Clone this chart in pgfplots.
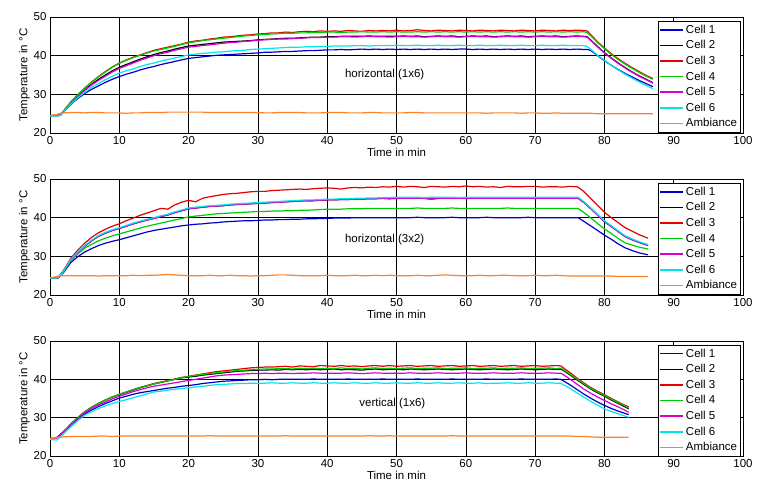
\documentclass[border=0pt]{standalone}
\usepackage{fontspec}
\setmainfont{Liberation Sans}
\usepackage{pgfplots}
\usepackage{pgfplotstable}
\pgfplotsset{compat=1.18}

\newcommand\axfont{\fontsize{11.5bp}{13bp}\selectfont}

\definecolor{cone}{RGB}{0,0,205}
\definecolor{ctwo}{RGB}{0,0,0}
\definecolor{cthree}{RGB}{230,0,0}
\definecolor{cfour}{RGB}{0,205,0}
\definecolor{cfive}{RGB}{215,0,215}
\definecolor{csix}{RGB}{0,230,230}
\definecolor{camb}{RGB}{255,130,40}

% horizontal (1x6)
\pgfplotstableread{
t c1 c2 c3 c4 c5 c6 a
0 24.5 24.5 24.5 24.5 24.5 24.4 24.5
1 24.5 24.6 24.5 24.6 24.5 24.4 24.8
1.5 24.6 24.6 24.6 24.6 24.6 24.5 25.1
2 25.6 25.7 25.8 25.8 25.7 25.6 25.2
3 27.4 27.9 28.0 27.9 27.7 27.5 25.3
4 28.9 29.6 29.9 29.8 29.4 29.1 25.3
5 30.2 31.2 31.6 31.5 31.0 30.5 25.2
6 31.3 32.6 33.2 33.1 32.4 31.8 25.3
7 32.2 33.9 34.6 34.5 33.6 32.8 25.3
8 33.1 35.0 35.9 35.8 34.7 33.8 25.2
9 33.9 36.1 37.1 37.0 35.8 34.7 25.2
10 34.6 37.0 38.1 38.0 36.7 35.5 25.2
11 35.2 37.7 38.9 38.8 37.4 36.1 25.1
12 35.7 38.4 39.6 39.5 38.1 36.6 25.2
13 36.3 39.1 40.2 40.1 38.8 37.2 25.2
14 36.8 39.7 40.8 40.7 39.4 37.7 25.3
15 37.2 40.3 41.4 41.2 40.0 38.1 25.3
16 37.7 40.8 41.8 41.6 40.5 38.6 25.3
17 38.1 41.2 42.2 42.0 40.9 39.0 25.4
18 38.5 41.7 42.6 42.4 41.4 39.4 25.4
19 38.9 42.1 43.0 42.9 41.8 39.8 25.4
20 39.3 42.5 43.5 43.3 42.2 40.2 25.4
21 39.5 42.7 43.8 43.6 42.4 40.4 25.4
22 39.7 42.9 44.0 43.9 42.6 40.6 25.4
23 39.9 43.1 44.3 44.1 42.8 40.7 25.3
24 40.1 43.3 44.5 44.3 43.0 40.9 25.3
25 40.2 43.5 44.8 44.5 43.2 41.0 25.3
26 40.3 43.6 44.9 44.7 43.4 41.2 25.3
27 40.4 43.7 45.1 44.9 43.5 41.3 25.3
28 40.5 43.8 45.3 45.1 43.7 41.4 25.3
29 40.6 43.9 45.4 45.2 43.8 41.6 25.3
30 40.7 44.1 45.6 45.4 44.0 41.7 25.3
31 40.9 44.2 45.7 45.5 44.1 41.8 25.2
32 40.9 44.3 45.9 45.6 44.2 41.9 25.2
33 41.0 44.4 45.9 45.7 44.3 42.0 25.3
34 41.1 44.5 46.1 45.8 44.3 42.1 25.3
35 41.1 44.5 46.0 45.8 44.4 42.2 25.3
36 41.2 44.6 46.2 45.9 44.5 42.2 25.3
37 41.3 44.7 46.3 45.9 44.6 42.3 25.2
38 41.3 44.8 46.2 46.0 44.7 42.3 25.2
39 41.4 44.8 46.4 46.0 44.7 42.4 25.2
40 41.5 44.9 46.3 46.1 44.8 42.4 25.3
41 41.5 44.9 46.4 46.1 44.8 42.5 25.3
42 41.6 45.0 46.3 46.0 44.9 42.5 25.3
43 41.5 45.0 46.5 46.1 44.9 42.5 25.2
44 41.6 45.0 46.4 46.1 44.8 42.6 25.2
45 41.7 45.0 46.3 46.2 44.9 42.6 25.2
46 41.6 45.1 46.5 46.1 45.0 42.5 25.3
47 41.7 45.0 46.4 46.1 44.9 42.6 25.3
48 41.6 45.0 46.5 46.2 44.9 42.6 25.2
49 41.7 45.0 46.4 46.1 44.8 42.6 25.2
50 41.6 45.0 46.6 46.2 44.9 42.7 25.2
51 41.7 45.1 46.4 46.1 45.0 42.6 25.2
52 41.6 45.0 46.5 46.1 44.9 42.6 25.3
53 41.7 45.1 46.7 46.2 44.9 42.7 25.3
54 41.6 44.9 46.5 46.1 44.8 42.6 25.2
55 41.7 45.0 46.4 46.2 44.9 42.6 25.2
56 41.6 45.1 46.6 46.1 45.0 42.7 25.2
57 41.7 45.0 46.5 46.2 44.9 42.6 25.2
58 41.6 45.1 46.4 46.1 44.9 42.6 25.2
59 41.7 44.9 46.6 46.2 44.8 42.7 25.2
60 41.7 45.0 46.5 46.1 44.9 42.6 25.2
61 41.6 45.1 46.4 46.2 45.0 42.6 25.2
62 41.7 45.0 46.6 46.1 44.9 42.7 25.2
63 41.6 45.1 46.5 46.2 44.9 42.6 25.1
64 41.7 44.9 46.4 46.1 44.8 42.6 25.2
65 41.6 45.0 46.6 46.2 44.9 42.7 25.2
66 41.7 45.1 46.5 46.1 45.0 42.6 25.2
67 41.6 45.0 46.4 46.2 44.9 42.6 25.2
68 41.7 45.1 46.6 46.1 44.9 42.7 25.1
69 41.6 44.9 46.5 46.2 44.8 42.6 25.2
70 41.7 45.0 46.4 46.1 44.9 42.6 25.2
71 41.6 45.1 46.6 46.2 45.0 42.7 25.1
72 41.7 45.0 46.5 46.1 44.9 42.6 25.1
73 41.6 45.1 46.4 46.2 44.9 42.6 25.2
74 41.7 44.9 46.6 46.1 44.8 42.7 25.1
75 41.6 45.0 46.5 46.2 44.9 42.6 25.1
76 41.7 45.1 46.6 46.1 45.0 42.6 25.1
77 41.6 45.0 46.5 46.2 44.9 42.6 25.1
77.5 41.6 44.9 46.4 46.0 44.8 42.4 25.1
78 41.4 44.1 45.5 45.2 44.0 41.7 25.1
79 40.0 42.4 43.6 43.4 42.3 40.1 25.0
80 38.7 40.8 42.0 41.8 40.7 38.8 25.0
81 37.5 39.4 40.5 40.3 39.3 37.5 25.0
82 36.4 38.1 39.2 39.0 38.0 36.3 25.0
83 35.4 36.9 38.0 37.8 36.8 35.2 25.0
84 34.5 35.8 36.9 36.7 35.7 34.2 25.0
85 33.6 34.8 35.9 35.7 34.7 33.2 25.0
86 32.8 33.9 34.9 34.7 33.8 32.3 25.0
87 32.0 33.0 34.1 33.9 32.9 31.5 25.0
}\tA

% horizontal (3x2)
\pgfplotstableread{
t c1 c2 c3 c4 c5 c6 a
0 24.4 24.4 24.4 24.4 24.4 24.4 24.4
1 24.4 24.4 24.5 24.4 24.4 24.4 24.8
1.2 24.5 24.5 24.5 24.5 24.5 24.5 24.9
2 25.9 26.2 26.5 26.1 26.2 26.3 25.0
3 28.4 29.1 29.5 28.9 29.1 29.2 25.0
4 29.9 31.0 31.6 30.6 31.0 31.1 25.0
5 31.1 32.6 33.4 32.1 32.6 32.8 25.0
6 32.0 34.0 34.9 33.1 34.0 34.2 25.0
7 32.8 35.2 36.1 34.0 35.2 35.4 24.9
8 33.4 36.0 37.0 34.7 36.0 36.2 25.0
9 33.9 36.7 37.8 35.3 36.7 36.9 25.0
10 34.3 37.2 38.4 35.8 37.2 37.4 25.0
11 34.8 37.8 39.2 36.3 37.8 38.0 25.0
12 35.3 38.4 39.9 36.8 38.4 38.6 25.1
13 35.8 38.9 40.6 37.3 38.9 39.1 25.0
14 36.3 39.4 41.2 37.8 39.4 39.6 25.1
15 36.7 39.8 41.8 38.2 39.8 40.0 25.1
16 37.0 40.3 42.4 38.6 40.3 40.5 25.2
17 37.3 40.7 42.2 39.0 40.7 40.9 25.3
18 37.6 41.3 43.3 39.4 41.3 41.5 25.2
19 37.9 41.8 44.0 39.8 41.8 42.0 25.1
20 38.1 42.3 44.5 40.2 42.3 42.5 25.0
21 38.3 42.5 44.1 40.4 42.5 42.7 25.0
22 38.4 42.7 45.0 40.6 42.7 42.9 25.0
23 38.6 42.9 45.4 40.8 42.9 43.1 25.1
24 38.7 43.0 45.7 41.0 43.0 43.2 25.0
25 38.9 43.1 46.0 41.1 43.1 43.3 25.0
26 39.0 43.3 46.2 41.2 43.3 43.5 25.1
27 39.1 43.4 46.3 41.3 43.4 43.6 25.0
28 39.2 43.5 46.5 41.4 43.5 43.7 25.0
29 39.2 43.6 46.7 41.5 43.6 43.8 24.9
30 39.3 43.7 46.8 41.6 43.7 43.9 25.0
31 39.4 43.8 46.8 41.6 43.8 44.0 25.0
32 39.4 43.9 47.0 41.7 43.9 44.1 25.1
33 39.5 44.0 47.1 41.7 44.0 44.2 25.2
34 39.5 44.1 47.2 41.8 44.1 44.3 25.2
35 39.6 44.2 47.3 41.8 44.2 44.4 25.1
36 39.6 44.3 47.4 41.9 44.3 44.5 25.0
37 39.7 44.4 47.3 41.9 44.4 44.6 25.0
38 39.7 44.4 47.5 42.0 44.4 44.6 25.0
39 39.8 44.5 47.6 42.1 44.5 44.7 25.0
40 39.8 44.6 47.7 42.2 44.6 44.8 25.1
41 39.9 44.6 47.6 42.2 44.6 44.8 25.0
42 39.9 44.7 47.4 42.2 44.7 44.9 25.0
43 39.9 44.7 47.7 42.3 44.7 44.9 25.0
44 40.0 44.8 47.8 42.3 44.8 45.0 25.1
45 40.0 44.8 47.7 42.3 44.8 45.0 25.0
46 40.0 44.9 47.9 42.4 44.9 45.1 25.0
47 40.0 44.9 47.8 42.4 44.9 45.1 25.1
48 40.0 45.0 48.0 42.4 45.0 45.2 25.0
49 40.0 44.9 47.9 42.4 44.9 45.2 25.1
50 40.0 45.0 48.1 42.4 45.0 45.3 25.0
51 40.0 45.0 47.9 42.4 45.0 45.3 25.0
52 40.0 45.0 48.1 42.4 45.0 45.3 25.0
53 40.1 45.1 48.0 42.5 45.1 45.3 25.1
54 40.0 45.0 47.8 42.4 45.0 45.2 25.0
55 40.0 44.8 48.1 42.4 44.8 45.3 25.0
56 40.0 45.0 48.0 42.4 45.0 45.3 25.1
57 40.0 45.0 47.9 42.4 45.0 45.3 25.2
58 40.1 45.0 48.1 42.5 45.0 45.3 25.1
59 40.0 45.0 48.0 42.4 45.0 45.2 25.0
60 40.0 45.0 48.2 42.4 45.0 45.3 25.0
61 40.0 45.0 48.0 42.4 45.0 45.3 25.0
62 40.0 45.0 48.1 42.4 45.0 45.3 25.1
63 40.1 45.0 47.9 42.4 45.0 45.3 25.0
64 40.0 45.0 48.0 42.4 45.0 45.3 25.0
65 40.0 45.0 47.8 42.4 45.0 45.3 25.1
66 40.0 45.0 48.1 42.5 45.0 45.3 25.1
67 40.0 45.0 48.0 42.4 45.0 45.3 25.0
68 40.0 45.0 48.0 42.4 45.0 45.3 25.0
69 40.1 45.0 48.1 42.4 45.0 45.3 25.0
70 40.0 45.0 48.1 42.4 45.0 45.3 25.1
71 40.0 45.0 47.9 42.4 45.0 45.3 25.0
72 40.0 45.0 48.0 42.4 45.0 45.3 25.0
73 40.0 45.0 48.0 42.4 45.0 45.3 25.1
74 40.0 45.0 47.9 42.4 45.0 45.3 25.0
75 40.0 45.0 48.1 42.4 45.0 45.3 24.9
76 40.0 45.0 48.0 42.4 45.0 45.3 24.9
76.2 40.0 45.0 47.9 42.4 45.0 45.3 24.9
77 39.1 44.0 46.8 41.4 44.0 44.2 24.9
78 37.9 42.4 45.0 40.0 42.4 42.6 24.9
79 36.7 40.7 43.2 38.5 40.7 40.9 24.9
80 35.5 39.0 41.4 37.1 39.0 39.2 24.9
81 34.4 37.7 40.0 35.9 37.7 37.9 24.9
82 33.2 36.4 38.7 34.6 36.4 36.6 24.8
83 32.2 35.1 37.4 33.5 35.1 35.3 24.8
84 31.5 34.3 36.5 32.9 34.3 34.5 24.8
85 30.9 33.6 35.6 32.4 33.6 33.8 24.8
86 30.5 33.0 34.9 32.0 33.0 33.2 24.8
86.3 30.4 32.8 34.7 31.9 32.8 33.0 24.8
}\tB

% vertical (1x6)
\pgfplotstableread{
t c1 c2 c3 c4 c5 c6 a
0 24.6 24.6 24.6 24.6 24.6 24.3 24.6
0.8 24.6 24.6 24.6 24.6 24.6 24.2 24.7
1 24.8 24.8 24.8 24.8 24.8 24.2 24.8
2 26.3 26.4 26.4 26.4 26.3 25.8 25.0
3 28.0 28.3 28.3 28.3 28.1 27.6 25.1
4 29.6 30.0 30.0 30.0 29.8 29.2 25.1
5 31.0 31.5 31.5 31.5 31.3 30.6 25.1
6 32.0 32.7 32.7 32.7 32.4 31.6 25.1
7 32.9 33.7 33.7 33.7 33.3 32.4 25.2
8 33.7 34.6 34.6 34.6 34.1 33.1 25.2
9 34.4 35.4 35.4 35.4 34.9 33.7 25.1
10 35.1 36.0 36.1 36.1 35.6 34.2 25.2
11 35.6 36.6 36.7 36.7 36.2 34.7 25.2
12 36.1 37.2 37.3 37.3 36.8 35.2 25.2
13 36.5 37.8 37.9 37.9 37.3 35.7 25.2
14 36.8 38.3 38.4 38.3 37.8 36.2 25.2
15 37.1 38.8 38.9 38.8 38.2 36.7 25.2
16 37.4 39.2 39.3 39.2 38.5 36.9 25.2
17 37.7 39.6 39.7 39.6 38.8 37.2 25.2
18 37.9 40.0 40.1 40.0 39.1 37.4 25.2
19 38.2 40.4 40.5 40.4 39.4 37.6 25.2
20 38.4 40.6 40.8 40.8 39.7 37.8 25.2
21 38.6 40.8 41.1 41.0 40.0 38.0 25.2
22 38.9 41.1 41.4 41.3 40.3 38.2 25.2
23 39.1 41.3 41.7 41.5 40.6 38.4 25.3
24 39.3 41.5 42.0 41.7 40.9 38.6 25.2
25 39.5 41.7 42.2 41.9 41.1 38.7 25.2
26 39.6 41.9 42.4 42.1 41.2 38.8 25.2
27 39.7 42.1 42.6 42.3 41.3 38.9 25.2
28 39.8 42.2 42.8 42.4 41.4 38.9 25.2
29 39.9 42.3 43.0 42.5 41.5 39.0 25.2
30 39.9 42.4 43.1 42.6 41.5 39.0 25.2
31 40.0 42.4 43.2 42.7 41.6 39.0 25.2
32 39.9 42.5 43.2 42.7 41.5 39.1 25.2
33 40.0 42.4 43.3 42.8 41.6 39.0 25.2
34 40.0 42.6 43.4 42.8 41.6 39.0 25.3
35 40.0 42.5 43.2 42.7 41.5 39.1 25.2
36 40.0 42.6 43.5 42.9 41.6 39.0 25.2
37 40.0 42.5 43.4 42.8 41.6 39.0 25.2
38 40.1 42.6 43.3 42.9 41.7 39.1 25.2
39 40.0 42.5 43.6 42.8 41.6 39.0 25.2
40 40.0 42.6 43.5 42.9 41.6 39.0 25.2
41 40.0 42.7 43.4 42.8 41.6 39.1 25.2
42 40.0 42.5 43.6 43.0 41.6 39.0 25.2
43 40.1 42.6 43.4 42.8 41.7 39.0 25.2
44 40.0 42.5 43.5 42.9 41.6 39.1 25.2
45 40.0 42.4 43.3 42.7 41.5 39.0 25.2
46 40.0 42.6 43.5 42.9 41.6 39.0 25.3
47 40.0 42.7 43.6 43.0 41.7 39.1 25.2
48 40.1 42.5 43.4 42.8 41.6 39.0 25.2
49 40.0 42.6 43.6 42.9 41.6 39.0 25.3
50 40.0 42.6 43.4 42.8 41.6 39.1 25.2
51 40.0 42.5 43.5 42.9 41.6 39.0 25.2
52 40.0 42.7 43.6 43.0 41.7 39.0 25.2
53 40.1 42.6 43.4 42.8 41.6 39.1 25.2
54 40.0 42.5 43.5 42.9 41.6 39.0 25.2
55 40.0 42.6 43.6 42.9 41.6 39.0 25.2
56 40.0 42.7 43.4 43.0 41.7 39.1 25.2
57 40.0 42.6 43.5 42.8 41.6 39.0 25.2
58 40.1 42.5 43.6 42.9 41.6 39.0 25.3
59 40.0 42.6 43.4 42.9 41.6 39.1 25.2
60 40.0 42.7 43.5 43.0 41.7 39.0 25.2
61 40.0 42.6 43.6 42.8 41.6 39.0 25.2
62 40.0 42.5 43.4 42.9 41.6 39.1 25.2
63 40.1 42.6 43.5 42.9 41.6 38.9 25.2
64 40.0 42.7 43.6 43.0 41.7 39.0 25.2
65 40.0 42.6 43.4 42.8 41.6 39.0 25.2
66 40.0 42.5 43.5 42.9 41.6 39.1 25.2
67 40.0 42.6 43.6 42.9 41.6 39.0 25.2
68 40.1 42.7 43.4 43.0 41.7 39.0 25.2
69 40.0 42.6 43.5 42.8 41.6 39.1 25.2
70 40.0 42.5 43.6 42.9 41.6 39.0 25.2
71 40.0 42.6 43.4 42.9 41.6 39.0 25.2
72 40.0 42.7 43.5 43.0 41.7 39.1 25.2
73 40.1 42.6 43.6 42.8 41.6 39.0 25.2
73.7 40.0 42.6 43.5 42.9 41.6 39.0 25.2
74 39.7 42.4 43.1 42.6 41.3 38.7 25.2
75 38.6 41.2 41.8 41.4 40.1 37.7 25.2
76 37.4 39.9 40.4 40.1 38.8 36.5 25.1
77 36.2 38.7 39.1 38.9 37.5 35.4 25.1
78 35.1 37.5 37.9 37.7 36.4 34.3 25.0
79 34.1 36.5 36.9 36.7 35.4 33.3 24.9
80 33.2 35.6 36.0 35.8 34.5 32.3 24.9
81 32.4 34.6 35.0 34.8 33.6 31.6 24.9
82 31.7 33.7 34.1 33.9 32.8 31.0 24.9
83 31.1 32.8 33.2 33.0 31.9 30.4 24.9
83.5 30.8 32.3 32.8 32.5 31.4 30.1 24.9
}\tC

\pgfplotsset{
  panel/.style={
    scale only axis,
    width=693bp, height=116bp,
    xmin=0, xmax=100, ymin=20, ymax=50,
    xtick={0,10,...,100}, ytick={20,30,40,50},
    grid=major,
    grid style={black, line width=0.5pt},
    tick align=inside,
    major tick length=3bp,
    tick style={black, line width=0.5pt},
    axis line style={line width=0.6pt},
    tick label style={font=\axfont},
    /pgf/number format/assume math mode=true,
    label style={font=\axfont},
    xlabel={Time in min},
    ylabel={Temperature in °C},
    xlabel style={yshift=3bp},
    ylabel style={yshift=-3bp},
    legend style={at={(0.997,0.965)}, anchor=north east, font=\axfont,
      line width=0.6pt, row sep=1.8bp, inner sep=1.5bp},
    legend cell align=left,
    legend image code/.code={\draw[#1, line width=1.5bp] (0bp,0bp) -- (23bp,0bp);},
    every axis plot/.append style={line width=1.2bp},
  }
}

\begin{document}
\begin{tikzpicture}
\path[use as bounding box] (0,0) rectangle (771bp,-500bp);

\begin{axis}[panel, at={(50bp,-133bp)}, anchor=south west]
\addplot[color=cone] table[x=t, y=c1] {\tA};
\addplot[color=ctwo] table[x=t, y=c2] {\tA};
\addplot[color=cthree] table[x=t, y=c3] {\tA};
\addplot[color=cfour] table[x=t, y=c4] {\tA};
\addplot[color=cfive] table[x=t, y=c5] {\tA};
\addplot[color=csix] table[x=t, y=c6] {\tA};
\addplot[color=camb] table[x=t, y=a] {\tA};
\node[font=\axfont] at (axis cs:48.3,35) {horizontal (1x6)};
\legend{Cell 1, Cell 2, Cell 3, Cell 4, Cell 5, Cell 6, Ambiance}
\end{axis}

\begin{axis}[panel, at={(50bp,-295bp)}, anchor=south west]
\addplot[color=cone] table[x=t, y=c1] {\tB};
\addplot[color=ctwo] table[x=t, y=c2] {\tB};
\addplot[color=cthree] table[x=t, y=c3] {\tB};
\addplot[color=cfour] table[x=t, y=c4] {\tB};
\addplot[color=cfive] table[x=t, y=c5] {\tB};
\addplot[color=csix] table[x=t, y=c6] {\tB};
\addplot[color=camb] table[x=t, y=a] {\tB};
\node[font=\axfont] at (axis cs:48.3,34.3) {horizontal (3x2)};
\legend{Cell 1, Cell 2, Cell 3, Cell 4, Cell 5, Cell 6, Ambiance}
\end{axis}

\begin{axis}[panel, height=115bp, at={(50bp,-456bp)}, anchor=south west]
\addplot[color=cone] table[x=t, y=c1] {\tC};
\addplot[color=ctwo] table[x=t, y=c2] {\tC};
\addplot[color=cthree] table[x=t, y=c3] {\tC};
\addplot[color=cfour] table[x=t, y=c4] {\tC};
\addplot[color=cfive] table[x=t, y=c5] {\tC};
\addplot[color=csix] table[x=t, y=c6] {\tC};
\addplot[color=camb] table[x=t, y=a] {\tC};
\node[font=\axfont] at (axis cs:49.4,33.8) {vertical (1x6)};
\legend{Cell 1, Cell 2, Cell 3, Cell 4, Cell 5, Cell 6, Ambiance}
\end{axis}
\end{tikzpicture}
\end{document}
